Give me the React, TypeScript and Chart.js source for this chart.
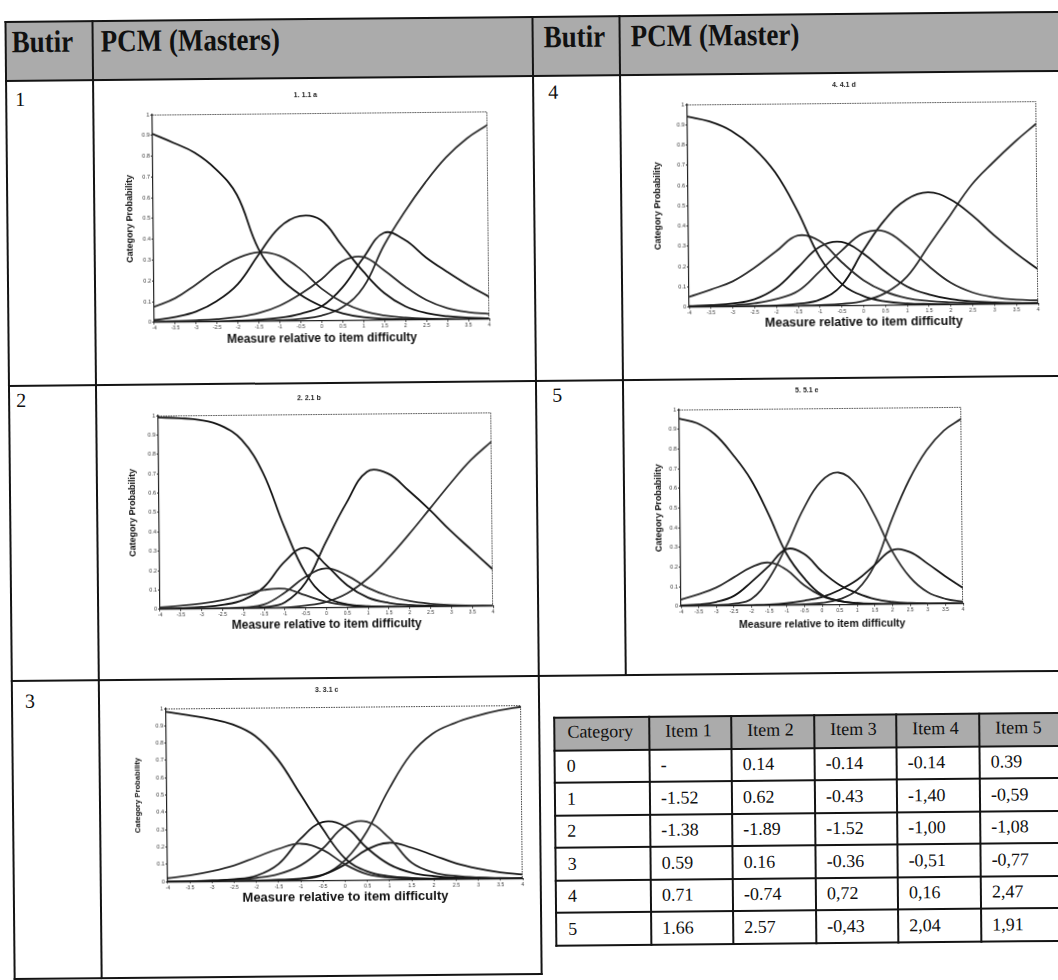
import React, { useEffect, useRef } from "react";
import { Chart, registerables } from "chart.js";

Chart.register(...registerables);
Chart.defaults.font.family = '"Liberation Sans", Arial, sans-serif';

// ---------- data ----------
const measures = [-4, -3.5, -3, -2.5, -2, -1.5, -1, -0.5, 0, 0.5, 1, 1.5, 2, 2.5, 3, 3.5, 4];
const probTicks = [0, 0.1, 0.2, 0.3, 0.4, 0.5, 0.6, 0.7, 0.8, 0.9, 1];

// Butir 1 (1. 1.1 a)
const item1Cat0 = [0.907, 0.863, 0.815, 0.735, 0.61, 0.35, 0.21, 0.125, 0.07, 0.035, 0.015, 0.007, 0.003, 0.002, 0.001, 0.001, 0];
const item1Cat1 = [0.075, 0.115, 0.18, 0.25, 0.305, 0.333, 0.315, 0.25, 0.155, 0.088, 0.045, 0.022, 0.011, 0.005, 0.003, 0.001, 0.001];
const item1Cat2 = [0.011, 0.025, 0.05, 0.1, 0.18, 0.32, 0.45, 0.505, 0.485, 0.36, 0.235, 0.13, 0.065, 0.032, 0.016, 0.008, 0.004];
const item1Cat3 = [0.003, 0.005, 0.008, 0.013, 0.022, 0.04, 0.075, 0.13, 0.2, 0.285, 0.305, 0.24, 0.16, 0.095, 0.055, 0.035, 0.025];
const item1Cat4 = [0, 0.001, 0.001, 0.002, 0.004, 0.008, 0.016, 0.035, 0.07, 0.16, 0.3, 0.42, 0.385, 0.3, 0.23, 0.165, 0.108];
const item1Cat5 = [0, 0, 0, 0, 0.001, 0.002, 0.004, 0.01, 0.025, 0.065, 0.16, 0.36, 0.52, 0.66, 0.78, 0.87, 0.935];

// Butir 2 (2. 2.1 b)
const item2Cat0 = [0.99, 0.985, 0.975, 0.945, 0.87, 0.7, 0.42, 0.18, 0.055, 0.017, 0.006, 0.002, 0.001, 0, 0, 0, 0];
const item2Cat1 = [0.01, 0.018, 0.028, 0.045, 0.07, 0.095, 0.1, 0.065, 0.03, 0.012, 0.005, 0.002, 0.001, 0, 0, 0, 0];
const item2Cat2 = [0.003, 0.005, 0.01, 0.02, 0.045, 0.11, 0.24, 0.31, 0.22, 0.115, 0.05, 0.022, 0.01, 0.005, 0.002, 0.001, 0.001];
const item2Cat3 = [0.001, 0.001, 0.002, 0.003, 0.006, 0.02, 0.08, 0.16, 0.203, 0.165, 0.1, 0.057, 0.03, 0.015, 0.007, 0.004, 0.002];
const item2Cat4 = [0, 0, 0, 0, 0.001, 0.006, 0.03, 0.13, 0.34, 0.54, 0.7, 0.69, 0.6, 0.5, 0.39, 0.29, 0.19];
const item2Cat5 = [0, 0, 0, 0, 0, 0.001, 0.003, 0.012, 0.031, 0.074, 0.15, 0.255, 0.376, 0.505, 0.635, 0.755, 0.85];

// Butir 3 (3. 3.1 c)
const item3Cat0 = [0.98, 0.96, 0.937, 0.904, 0.837, 0.702, 0.5, 0.298, 0.125, 0.048, 0.019, 0.008, 0.003, 0.001, 0, 0, 0];
const item3Cat1 = [0.02, 0.035, 0.058, 0.09, 0.137, 0.183, 0.212, 0.175, 0.09, 0.032, 0.011, 0.004, 0.001, 0, 0, 0, 0];
const item3Cat2 = [0.001, 0.002, 0.004, 0.01, 0.03, 0.096, 0.24, 0.335, 0.31, 0.183, 0.087, 0.038, 0.017, 0.007, 0.003, 0.001, 0];
const item3Cat3 = [0, 0.001, 0.003, 0.007, 0.017, 0.038, 0.087, 0.183, 0.31, 0.335, 0.24, 0.096, 0.038, 0.017, 0.007, 0.003, 0.001];
const item3Cat4 = [0, 0, 0, 0, 0.001, 0.004, 0.011, 0.032, 0.09, 0.175, 0.212, 0.183, 0.137, 0.09, 0.058, 0.035, 0.022];
const item3Cat5 = [0, 0, 0, 0, 0.001, 0.003, 0.008, 0.03, 0.115, 0.28, 0.52, 0.72, 0.84, 0.9, 0.94, 0.97, 0.99];

// Butir 4 (4. 4.1 d)
const item4Cat0 = [0.94, 0.915, 0.868, 0.785, 0.66, 0.47, 0.24, 0.107, 0.045, 0.018, 0.007, 0.003, 0.001, 0, 0, 0, 0];
const item4Cat1 = [0.05, 0.085, 0.124, 0.19, 0.27, 0.347, 0.32, 0.215, 0.124, 0.066, 0.033, 0.018, 0.01, 0.005, 0.003, 0.002, 0.001];
const item4Cat2 = [0.004, 0.008, 0.015, 0.035, 0.09, 0.19, 0.29, 0.314, 0.256, 0.165, 0.09, 0.05, 0.026, 0.014, 0.008, 0.004, 0.002];
const item4Cat3 = [0.001, 0.003, 0.006, 0.015, 0.035, 0.074, 0.17, 0.27, 0.355, 0.364, 0.29, 0.19, 0.107, 0.058, 0.033, 0.02, 0.016];
const item4Cat4 = [0, 0, 0, 0.001, 0.003, 0.01, 0.03, 0.1, 0.27, 0.42, 0.52, 0.555, 0.52, 0.44, 0.34, 0.25, 0.17];
const item4Cat5 = [0, 0, 0, 0, 0, 0.001, 0.003, 0.008, 0.022, 0.06, 0.14, 0.29, 0.44, 0.59, 0.7, 0.8, 0.89];

// Butir 5 (5. 5.1 e)
const item5Cat0 = [0.954, 0.93, 0.873, 0.77, 0.644, 0.466, 0.263, 0.136, 0.05, 0.02, 0.008, 0.003, 0.001, 0, 0, 0, 0];
const item5Cat1 = [0.034, 0.06, 0.093, 0.144, 0.195, 0.218, 0.18, 0.1, 0.045, 0.018, 0.007, 0.003, 0.001, 0, 0, 0, 0];
const item5Cat2 = [0.004, 0.008, 0.02, 0.05, 0.12, 0.2, 0.285, 0.26, 0.17, 0.1, 0.058, 0.027, 0.012, 0.005, 0.002, 0.001, 0.001];
const item5Cat3 = [0.001, 0.002, 0.004, 0.01, 0.034, 0.136, 0.3, 0.49, 0.627, 0.672, 0.61, 0.458, 0.27, 0.136, 0.059, 0.025, 0.01];
const item5Cat4 = [0, 0, 0, 0.001, 0.002, 0.004, 0.01, 0.022, 0.04, 0.075, 0.125, 0.2, 0.275, 0.265, 0.205, 0.14, 0.08];
const item5Cat5 = [0, 0, 0, 0, 0, 0, 0.001, 0.004, 0.01, 0.028, 0.075, 0.2, 0.43, 0.63, 0.78, 0.88, 0.94];

// threshold table
const tableHeader = ["Category", "Item 1", "Item 2", "Item 3", "Item 4", "Item 5"];
const categories = ["0", "1", "2", "3", "4", "5"];
const item1Values = ["-", "-1.52", "-1.38", "0.59", "0.71", "1.66"];
const item2Values = ["0.14", "0.62", "-1.89", "0.16", "-0.74", "2.57"];
const item3Values = ["-0.14", "-0.43", "-1.52", "-0.36", "0,72", "-0,43"];
const item4Values = ["-0.14", "-1,40", "-1,00", "-0,51", "0,16", "2,04"];
const item5Values = ["0.39", "-0,59", "-1,08", "-0,77", "2,47", "1,91"];

// ---------- layout ----------
type Spec = {
  title: string;
  series: number[][];
  plotL: number; plotR: number; plotT: number; plotB: number;
  titleY: number;
  yGap: number; ySize: number;
  xTitleY: number; xSize: number;
};

const chartSpecs: Spec[] = [
  { title: "1. 1.1 a", series: [item1Cat0, item1Cat1, item1Cat2, item1Cat3, item1Cat4, item1Cat5],
    plotL: 156, plotR: 491, plotT: 111, plotB: 319, titleY: 93, yGap: 23, ySize: 9, xTitleY: 337, xSize: 12 },
  { title: "4. 4.1 d", series: [item4Cat0, item4Cat1, item4Cat2, item4Cat3, item4Cat4, item4Cat5],
    plotL: 691, plotR: 1040, plotT: 106, plotB: 308, titleY: 88, yGap: 30, ySize: 9, xTitleY: 325, xSize: 12.5 },
  { title: "2. 2.1 b", series: [item2Cat0, item2Cat1, item2Cat2, item2Cat3, item2Cat4, item2Cat5],
    plotL: 159, plotR: 492, plotT: 412, plotB: 606, titleY: 396, yGap: 26, ySize: 9, xTitleY: 623, xSize: 12 },
  { title: "5. 5.1 e", series: [item5Cat0, item5Cat1, item5Cat2, item5Cat3, item5Cat4, item5Cat5],
    plotL: 680, plotR: 962, plotT: 411, plotB: 608, titleY: 393, yGap: 21, ySize: 9, xTitleY: 627, xSize: 10.5 },
  { title: "3. 3.1 c", series: [item3Cat0, item3Cat1, item3Cat2, item3Cat3, item3Cat4, item3Cat5],
    plotL: 164, plotR: 519, plotT: 705, plotB: 878, titleY: 688, yGap: 29, ySize: 7.7, xTitleY: 895, xSize: 13 },
];

const fmt = (v: number) => {
  const r = Math.round(v * 10) / 10;
  return Number.isInteger(r) ? String(r) : r.toFixed(1);
};

const framePlugin = {
  id: "frame",
  afterDatasetsDraw(chart: any) {
    const { ctx, chartArea } = chart;
    const { left, right, top, bottom } = chartArea;
    ctx.save();
    ctx.strokeStyle = "#444";
    ctx.lineWidth = 1;
    ctx.setLineDash([1.5, 1]);
    ctx.beginPath();
    ctx.moveTo(left, top + 0.5);
    ctx.lineTo(right - 0.5, top + 0.5);
    ctx.lineTo(right - 0.5, bottom);
    ctx.stroke();
    ctx.restore();
  },
};

function CurveChart({ spec }: { spec: Spec }) {
  const ref = useRef<HTMLCanvasElement | null>(null);
  const yLh = spec.ySize * 1.2;
  const xLh = spec.xSize * 1.2;
  const yW = spec.yGap + yLh / 2;
  const xH = spec.xTitleY - spec.plotB + xLh / 2;
  const tSize = 7;
  const tLh = tSize * 1.2;
  const canvasL = Math.floor(spec.plotL - yW - 3);
  const padL = spec.plotL - yW - canvasL;
  const padR = 6;
  const canvasT = Math.floor(spec.titleY - tLh / 2 - 3);
  const tPadTop = spec.titleY - tLh / 2 - canvasT;
  const tPadBottom = spec.plotT - canvasT - tLh - tPadTop;
  const W = Math.round(spec.plotR + padR - canvasL);
  const H = Math.round(spec.plotB + xH + 2 - canvasT);

  useEffect(() => {
    if (!ref.current) return;
    const chart = new Chart(ref.current, {
      type: "line",
      data: {
        datasets: spec.series.map((s, i) => ({
          label: "Category " + i,
          data: s.map((y, j) => ({ x: measures[j], y })),
          borderColor: i % 2 === 0 ? "#151515" : "#2e2e2e",
          borderWidth: 1.8,
          pointRadius: 0,
          tension: 0.4,
          fill: false,
        })),
      },
      options: {
        responsive: false,
        animation: false,
        devicePixelRatio: 1,
        layout: { padding: { left: padL, right: padR, top: 0, bottom: 2 } },
        plugins: {
          legend: { display: false },
          tooltip: { enabled: false },
          title: {
            display: true,
            text: spec.title,
            color: "#222",
            font: { size: tSize, weight: "bold" },
            padding: { top: tPadTop, bottom: tPadBottom },
          },
        },
        scales: {
          x: {
            type: "linear",
            min: measures[0],
            max: measures[measures.length - 1],
            ticks: {
              stepSize: 0.5,
              autoSkip: false,
              maxRotation: 0,
              padding: 1,
              color: "#333",
              font: { size: 5 },
              callback: (v: any) => fmt(Number(v)),
            },
            grid: { drawOnChartArea: false, drawTicks: true, tickLength: 2, color: "#333" },
            border: { display: true, color: "#222", width: 1.2 },
            title: {
              display: true,
              text: "Measure relative to item difficulty",
              color: "#111",
              font: { size: spec.xSize, weight: "bold" },
              padding: 0,
            },
            afterFit: (s: any) => {
              s.height = xH;
              s.paddingLeft = 0;
              s.paddingRight = 0;
            },
          },
          y: {
            type: "linear",
            min: probTicks[0],
            max: probTicks[probTicks.length - 1],
            ticks: {
              stepSize: 0.1,
              padding: 1,
              color: "#333",
              font: { size: 5.5 },
              callback: (v: any) => fmt(Number(v)),
            },
            grid: { drawOnChartArea: false, drawTicks: true, tickLength: 2, color: "#333" },
            border: { display: true, color: "#222", width: 1.2 },
            title: {
              display: true,
              text: "Category Probability",
              color: "#111",
              font: { size: spec.ySize, weight: "bold" },
              padding: 0,
            },
            afterFit: (s: any) => {
              s.width = yW;
              s.paddingTop = 0;
              s.paddingBottom = 0;
            },
          },
        },
      } as any,
      plugins: [framePlugin],
    });
    return () => chart.destroy();
  }, []);

  return (
    <canvas
      ref={ref}
      width={W}
      height={H}
      style={{ position: "absolute", left: canvasL, top: canvasT, width: W, height: H }}
    />
  );
}

const INK = "#141414";
const GRAY = "#ababab";

function HLine({ x1, x2, y }: { x1: number; x2: number; y: number }) {
  return <div style={{ position: "absolute", left: x1, top: y - 1, width: x2 - x1, height: 2, background: INK }} />;
}
function VLine({ x, y1, y2 }: { x: number; y1: number; y2: number }) {
  return <div style={{ position: "absolute", left: x - 1, top: y1, width: 2, height: y2 - y1, background: INK }} />;
}

const serif = '"Liberation Serif", "Times New Roman", serif';

function Label({ x, y, text, size, bold, stretch }: { x: number; y: number; text: string; size: number; bold?: boolean; stretch?: number }) {
  return (
    <div
      style={{
        position: "absolute",
        left: x,
        top: y,
        fontFamily: serif,
        fontSize: size,
        fontWeight: bold ? "bold" : "normal",
        lineHeight: 1,
        color: "#111",
        whiteSpace: "nowrap",
        transform: stretch ? `scaleY(${stretch})` : undefined,
        transformOrigin: "0 0",
      }}
    >
      {text}
    </div>
  );
}

// threshold table geometry
const tColX = [552, 647, 729, 812, 894, 977, 1062];
const tRowY = [718, 751, 783, 816, 848, 881, 913, 946];

function ThresholdTable() {
  const columns = [categories, item1Values, item2Values, item3Values, item4Values, item5Values];
  const cells: any[] = [];
  tableHeader.forEach((h, j) => {
    cells.push(
      <div key={"h" + j} style={{ position: "absolute", left: tColX[j], top: tRowY[0], width: tColX[j + 1] - tColX[j], height: tRowY[1] - tRowY[0], background: GRAY }}>
        <div style={{ position: "absolute", left: j === 0 ? 13 : 16, top: 5, fontFamily: serif, fontSize: 18, lineHeight: 1, color: "#111", whiteSpace: "nowrap" }}>{h}</div>
      </div>
    );
  });
  for (let i = 0; i < categories.length; i++) {
    for (let j = 0; j < columns.length; j++) {
      const top = tRowY[i + 1];
      const h = tRowY[i + 2] - top;
      cells.push(
        <div key={"c" + i + "-" + j} style={{ position: "absolute", left: tColX[j], top, width: tColX[j + 1] - tColX[j], height: h }}>
          <div style={{ position: "absolute", left: j === 0 ? 12 : 11, top: (h - 18) / 2 - 1, fontFamily: serif, fontSize: 18, lineHeight: 1, color: "#111", whiteSpace: "nowrap" }}>{columns[j][i]}</div>
        </div>
      );
    }
  }
  const lines: any[] = [];
  tRowY.forEach((y, i) => lines.push(<HLine key={"tr" + i} x1={tColX[0] - 1} x2={tColX[tColX.length - 1]} y={y} />));
  tColX.forEach((x, i) => lines.push(<VLine key={"tc" + i} x={x} y1={tRowY[0] - 1} y2={tRowY[tRowY.length - 1] + 1} />));
  return (
    <>
      {cells}
      {lines}
    </>
  );
}

export default function App() {
  return (
    <div style={{ position: "absolute", left: 0, top: 0, width: 1058, height: 980, overflow: "hidden", background: "#fff" }}>
      <div style={{ position: "absolute", left: 0, top: 0, width: 1058, height: 980, transform: "rotate(-0.55deg)", transformOrigin: "529px 490px" }}>
        {/* header band */}
        <div style={{ position: "absolute", left: 10, top: 17, width: 1100, height: 59, background: GRAY }} />
        <Label x={16} y={22} text="Butir" size={27} bold stretch={1.15} />
        <Label x={105} y={22} text="PCM (Masters)" size={27} bold stretch={1.15} />
        <Label x={548} y={22} text="Butir" size={27} bold stretch={1.15} />
        <Label x={635} y={22} text="PCM (Master)" size={27} bold stretch={1.15} />

        {/* grid lines */}
        <HLine x1={9} x2={1110} y={17} />
        <HLine x1={9} x2={1110} y={76} />
        <HLine x1={9} x2={1110} y={381} />
        <HLine x1={9} x2={1110} y={676} />
        <HLine x1={9} x2={538} y={974} />
        <VLine x={10} y1={16} y2={975} />
        <VLine x={97} y1={16} y2={975} />
        <VLine x={537} y1={16} y2={975} />
        <VLine x={624} y1={16} y2={677} />

        {/* row numbers */}
        <Label x={19} y={84} text="1" size={20} />
        <Label x={552} y={82} text="4" size={20} />
        <Label x={17} y={385} text="2" size={20} />
        <Label x={553} y={385} text="5" size={20} />
        <Label x={23} y={686} text="3" size={20} />

        {chartSpecs.map((s, i) => (
          <CurveChart key={i} spec={s} />
        ))}

        <ThresholdTable />
      </div>
    </div>
  );
}
